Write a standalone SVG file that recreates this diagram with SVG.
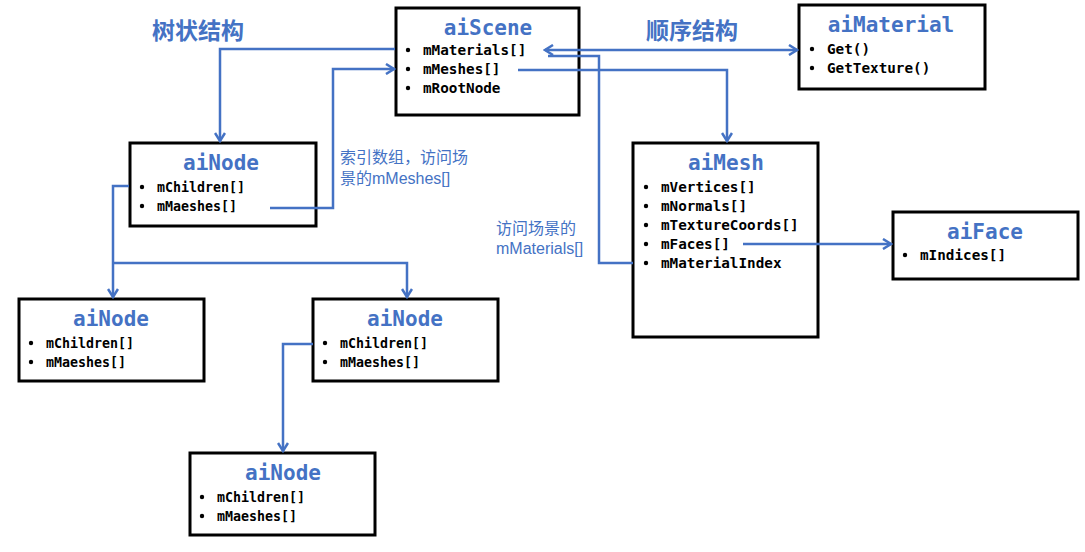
<svg xmlns="http://www.w3.org/2000/svg" width="1085" height="552" viewBox="0 0 1085 552">
<style>
.box{fill:#fff;stroke:#000;stroke-width:3}
.title{font-family:"DejaVu Sans Mono",monospace;font-weight:bold;font-size:21px;fill:#4472C4;text-anchor:middle}
.item{font-family:"DejaVu Sans Mono",monospace;font-weight:bold;font-size:14.3px;fill:#000}
.itemS{font-family:"DejaVu Sans Mono",monospace;font-weight:bold;font-size:13.3px;fill:#000}
.bul{fill:#000}
.conn{fill:none;stroke:#4472C4;stroke-width:2.5}
.lbl{font-family:"Liberation Sans","Noto Sans CJK SC",sans-serif;font-size:16px;fill:#4472C4}
.head{font-family:"Noto Sans CJK SC",sans-serif;font-weight:bold;font-size:23px;fill:#4472C4}
</style>
<defs>
<marker id="arr" viewBox="0 0 12 12" refX="10" refY="6" markerWidth="12" markerHeight="12" markerUnits="userSpaceOnUse" orient="auto-start-reverse">
<path d="M2,1 L10,6 L2,11" fill="none" stroke="#4472C4" stroke-width="2.5"/>
</marker>
</defs>
<rect width="1085" height="552" fill="#fff"/>
<text class="head" x="152" y="39">树状结构</text>
<text class="head" x="646" y="39">顺序结构</text>
<text class="lbl" x="340" y="163">索引数组，访问场</text>
<text class="lbl" x="340" y="184">景的mMeshes[]</text>
<text class="lbl" x="496" y="234">访问场景的</text>
<text class="lbl" x="496" y="254">mMaterials[]</text>
<g id="aiScene">
<rect class="box" x="396" y="8" width="183" height="107"/>
<text class="title" x="488" y="35">aiScene</text>
<circle class="bul" cx="408" cy="50" r="2.2"/><text class="item" x="423" y="55">mMaterials[]</text>
<circle class="bul" cx="408" cy="69" r="2.2"/><text class="item" x="423" y="74">mMeshes[]</text>
<circle class="bul" cx="408" cy="88" r="2.2"/><text class="item" x="423" y="93">mRootNode</text>
</g>
<g id="aiMaterial">
<rect class="box" x="799" y="5" width="186" height="84"/>
<text class="title" x="891" y="32">aiMaterial</text>
<circle class="bul" cx="812" cy="49" r="2.2"/><text class="item" x="827" y="54">Get()</text>
<circle class="bul" cx="812" cy="68" r="2.2"/><text class="item" x="827" y="73">GetTexture()</text>
</g>
<g id="aiNode1">
<rect class="box" x="130" y="143" width="186" height="83"/>
<text class="title" x="221" y="170">aiNode</text>
<circle class="bul" cx="142" cy="187" r="2.2"/><text class="itemS" x="157" y="192">mChildren[]</text>
<circle class="bul" cx="142" cy="206" r="2.2"/><text class="itemS" x="157" y="211">mMaeshes[]</text>
</g>
<g id="aiMesh">
<rect class="box" x="633" y="143" width="185" height="194"/>
<text class="title" x="726" y="170">aiMesh</text>
<circle class="bul" cx="646" cy="187" r="2.2"/><text class="item" x="661" y="192">mVertices[]</text>
<circle class="bul" cx="646" cy="206" r="2.2"/><text class="item" x="661" y="211">mNormals[]</text>
<circle class="bul" cx="646" cy="225" r="2.2"/><text class="item" x="661" y="230">mTextureCoords[]</text>
<circle class="bul" cx="646" cy="244" r="2.2"/><text class="item" x="661" y="249">mFaces[]</text>
<circle class="bul" cx="646" cy="263" r="2.2"/><text class="item" x="661" y="268">mMaterialIndex</text>
</g>
<g id="aiFace">
<rect class="box" x="893" y="212" width="185" height="67"/>
<text class="title" x="985" y="239">aiFace</text>
<circle class="bul" cx="905" cy="255" r="2.2"/><text class="item" x="920" y="260">mIndices[]</text>
</g>
<g id="aiNode2">
<rect class="box" x="19" y="299" width="185" height="82"/>
<text class="title" x="111" y="326">aiNode</text>
<circle class="bul" cx="31" cy="343" r="2.2"/><text class="itemS" x="46" y="348">mChildren[]</text>
<circle class="bul" cx="31" cy="362" r="2.2"/><text class="itemS" x="46" y="367">mMaeshes[]</text>
</g>
<g id="aiNode3">
<rect class="box" x="313" y="299" width="185" height="82"/>
<text class="title" x="405" y="326">aiNode</text>
<circle class="bul" cx="325" cy="343" r="2.2"/><text class="itemS" x="340" y="348">mChildren[]</text>
<circle class="bul" cx="325" cy="362" r="2.2"/><text class="itemS" x="340" y="367">mMaeshes[]</text>
</g>
<g id="aiNode4">
<rect class="box" x="190" y="453" width="185" height="82"/>
<text class="title" x="283" y="480">aiNode</text>
<circle class="bul" cx="202" cy="497" r="2.2"/><text class="itemS" x="217" y="502">mChildren[]</text>
<circle class="bul" cx="202" cy="516" r="2.2"/><text class="itemS" x="217" y="521">mMaeshes[]</text>
</g>
<g id="connectors">
<path class="conn" d="M395,49 H220 V141" marker-end="url(#arr)"/>
<path class="conn" d="M270,208 H333 V69 H394" marker-end="url(#arr)"/>
<path class="conn" d="M129,186 H113 V297" marker-end="url(#arr)"/>
<path class="conn" d="M113,263 H407 V297" marker-end="url(#arr)"/>
<path class="conn" d="M313,344 H283 V451" marker-end="url(#arr)"/>
<path class="conn" d="M545,50 H797" marker-start="url(#arr)" marker-end="url(#arr)"/>
<path class="conn" d="M633,263 H599 V56 H548"/>
<path class="conn" d="M518,70 H727 V141" marker-end="url(#arr)"/>
<path class="conn" d="M743,244 H891" marker-end="url(#arr)"/>
</g>
</svg>
